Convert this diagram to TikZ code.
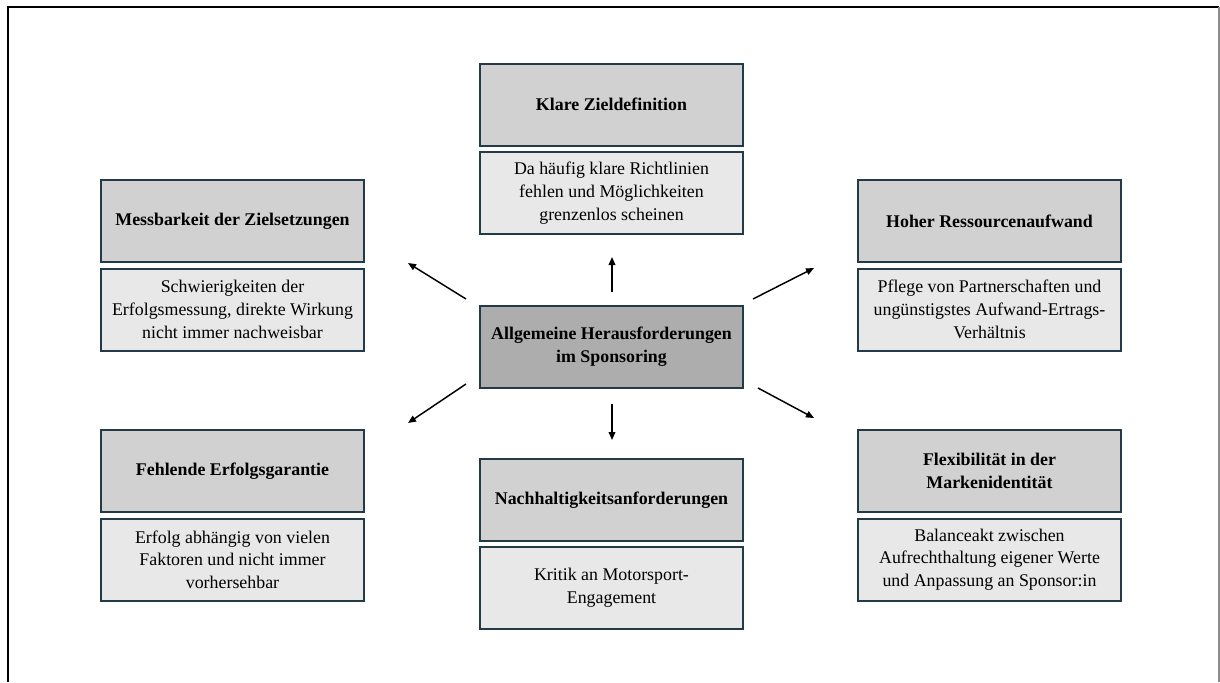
\documentclass[tikz,border=0pt]{standalone}
\usepackage{fontspec}
\setmainfont{Liberation Serif}
\usetikzlibrary{arrows.meta}
\definecolor{bordc}{HTML}{233A48}
\definecolor{headfill}{HTML}{D1D1D1}
\definecolor{descfill}{HTML}{E8E8E8}
\definecolor{centfill}{HTML}{ADADAD}
\tikzset{
  box/.style={draw=bordc, line width=1.5pt, minimum width=197pt, minimum height=61.5pt,
    align=center, inner sep=2pt, font=\fontsize{13.4}{17}\selectfont},
  headbox/.style={box, fill=headfill, font=\fontsize{13.4}{17}\selectfont\bfseries},
  descbox/.style={box, fill=descfill},
  centbox/.style={box, fill=centfill, font=\fontsize{13.4}{17}\selectfont\bfseries},
  conn/.style={line width=1.1pt, -{Triangle[length=6pt,width=5pt]}},
  frame/.style={line width=1.5pt, black}
}
\begin{document}
\begin{tikzpicture}[x=0.75pt,y=-0.75pt]
\useasboundingbox (0,0) rectangle (1220,682);
\draw[frame] (8,682) -- (8,7) -- (1219,7);
\draw[line width=1.2pt, black!45] (1219,7) -- (1219,682);

% center
\node[centbox] (c) at (611.5,347) {Allgemeine Herausforderungen\\im Sponsoring};

% top
\node[headbox] (h1) at (611.5,104.5) {Klare Zieldefinition};
\node[descbox] (d1) at (611.5,193) {Da häufig klare Richtlinien\\fehlen und Möglichkeiten\\grenzenlos scheinen};

% upper left
\node[headbox] (h2) at (232.5,221) {Messbarkeit der Zielsetzungen};
\node[descbox] (d2) at (232.5,309.5) {Schwierigkeiten der\\Erfolgsmessung, direkte Wirkung\\nicht immer nachweisbar};

% upper right
\node[headbox] (h3) at (989.5,221) {Hoher Ressourcenaufwand};
\node[descbox] (d3) at (989.5,309.5) {Pflege von Partnerschaften und\\ungünstigstes Aufwand-Ertrags-\\Verhältnis};

% lower left
\node[headbox] (h4) at (232.5,471) {Fehlende Erfolgsgarantie};
\node[descbox] (d4) at (232.5,559.5) {Erfolg abhängig von vielen\\Faktoren und nicht immer\\vorhersehbar};

% bottom center
\node[headbox] (h5) at (611.5,500) {Nachhaltigkeitsanforderungen};
\node[descbox] (d5) at (611.5,588) {Kritik an Motorsport-\\Engagement};

% lower right
\node[headbox] (h6) at (989.5,471) {Flexibilität in der\\Markenidentität};
\node[descbox] (d6) at (989.5,559.5) {Balanceakt zwischen\\Aufrechthaltung eigener Werte\\und Anpassung an Sponsor:in};

% arrow endpoints
\coordinate (a1s) at (612,292); \coordinate (a1e) at (612,257);
\coordinate (a2s) at (466,299); \coordinate (a2e) at (408,263);
\coordinate (a3s) at (753,299); \coordinate (a3e) at (814,268);
\coordinate (a4s) at (466,384); \coordinate (a4e) at (408,423);
\coordinate (a5s) at (612,404); \coordinate (a5e) at (612,440);
\coordinate (a6s) at (758,388); \coordinate (a6e) at (814,418);

\draw[conn] (a1s) -- (a1e);
\draw[conn] (a2s) -- (a2e);
\draw[conn] (a3s) -- (a3e);
\draw[conn] (a4s) -- (a4e);
\draw[conn] (a5s) -- (a5e);
\draw[conn] (a6s) -- (a6e);
\end{tikzpicture}
\end{document}
